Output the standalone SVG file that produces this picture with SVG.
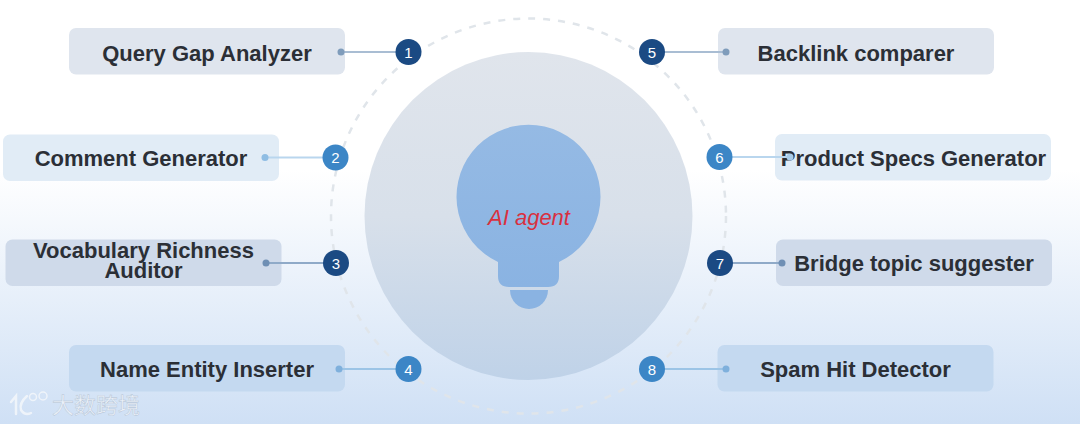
<svg xmlns="http://www.w3.org/2000/svg" width="1080" height="424" viewBox="0 0 1080 424">
<style>
.box{stroke:none}
.lbl{font-family:"Liberation Sans",Arial,sans-serif;font-weight:700;font-size:22px;fill:#2b2f36;text-anchor:middle}
.num{font-family:"Liberation Sans",Arial,sans-serif;font-size:15px;fill:#fff;text-anchor:middle}
.line{stroke-width:2;fill:none}
.dot{stroke:none}
.dark{fill:#1b4a83}.mid{fill:#3c86c6}
</style>
<defs>
<linearGradient id="bg" x1="0" y1="0" x2="0" y2="1"><stop offset="0.4" stop-color="#fff"/><stop offset="1" stop-color="#cfe0f5"/></linearGradient>
<linearGradient id="big" x1="0" y1="0" x2="0" y2="1"><stop offset="0" stop-color="#e0e5ec"/><stop offset="0.5" stop-color="#d8e0ea"/><stop offset="1" stop-color="#bfd2e8"/></linearGradient>
<linearGradient id="bulb" x1="0" y1="0" x2="0" y2="1"><stop offset="0" stop-color="#95bae4"/><stop offset="1" stop-color="#8ab3e2"/></linearGradient>
</defs>
<rect width="1080" height="424" fill="url(#bg)"/>
<circle cx="528.500" cy="216" r="197.500" fill="none" stroke="#e0e5ea" stroke-width="2.500" stroke-dasharray="7 8"/>
<circle cx="528.500" cy="216" r="164" fill="url(#big)"/>
<g id="agent">
<path fill="url(#bulb)" d="M498 262A72 72 0 1 1 559 262V276Q559 287 548 287H509Q498 287 498 276Z"/>
<path fill="#8ab3e2" d="M510 290H548A19 19 0 0 1 510 290Z"/>
<text x="529" y="225" font-family="'Liberation Sans',Arial,sans-serif" font-style="italic" font-size="22" fill="#d9303f" text-anchor="middle">AI agent</text>
</g>
<g id="n1"><rect class="box" x="69" y="28" width="276" height="46.500" rx="7" fill="#dfe5ee"/><text class="lbl" x="207" y="61">Query Gap Analyzer</text></g>
<g id="n2"><rect class="box" x="3" y="134.500" width="276" height="46.500" rx="7" fill="#e1ecf6"/><text class="lbl" x="141" y="166">Comment Generator</text></g>
<g id="n3"><rect class="box" x="5.500" y="239.500" width="276" height="46.500" rx="7" fill="#cfdaea"/><text class="lbl" x="143.500" y="258">Vocabulary Richness</text><text class="lbl" x="143.500" y="278">Auditor</text></g>
<g id="n4"><rect class="box" x="69" y="345" width="276" height="46.500" rx="7" fill="#c4d9f0"/><text class="lbl" x="207" y="377">Name Entity Inserter</text></g>
<g id="n5"><rect class="box" x="718" y="28" width="276" height="46.500" rx="7" fill="#dfe5ee"/><text class="lbl" x="856" y="61">Backlink comparer</text></g>
<g id="n6"><rect class="box" x="775" y="134" width="276" height="46.500" rx="7" fill="#e1ecf6"/><text class="lbl" x="913.500" y="166">Product Specs Generator</text></g>
<g id="n7"><rect class="box" x="776" y="239.500" width="276" height="46.500" rx="7" fill="#cfdaea"/><text class="lbl" x="914" y="271">Bridge topic suggester</text></g>
<g id="n8"><rect class="box" x="717.500" y="345" width="276" height="46.500" rx="7" fill="#c4d9f0"/><text class="lbl" x="855.500" y="377">Spam Hit Detector</text></g>
<g id="connectors">
<path class="line" stroke="#a9bdd3" d="M341 52H408"/><circle class="dot" cx="341" cy="52" r="3.500" fill="#7f9cbb"/>
<path class="line" stroke="#b9d6ee" d="M265 157.500H335"/><circle class="dot" cx="265" cy="157.500" r="3.500" fill="#8fbde3"/>
<path class="line" stroke="#8faac8" d="M266 263H336"/><circle class="dot" cx="266" cy="263" r="3.500" fill="#6f8fb4"/>
<path class="line" stroke="#9cc4e6" d="M339 369H408"/><circle class="dot" cx="339" cy="369" r="3.500" fill="#7fb0dc"/>
<path class="line" stroke="#a9bdd3" d="M652 52H726"/><circle class="dot" cx="726" cy="52" r="3.500" fill="#7f9cbb"/>
<path class="line" stroke="#b9d6ee" d="M719 157H790"/><circle class="dot" cx="790" cy="157" r="3.500" fill="#a9cce9"/>
<path class="line" stroke="#8faac8" d="M720 263H782"/><circle class="dot" cx="782" cy="263" r="3.500" fill="#6f8fb4"/>
<path class="line" stroke="#9cc4e6" d="M652 369H726"/><circle class="dot" cx="726" cy="369" r="3.500" fill="#7fb0dc"/>
</g>
<g id="b1"><circle class="dark" cx="408.500" cy="52" r="13"/><text class="num" x="408.500" y="57.500">1</text></g>
<g id="b2"><circle class="mid" cx="335.500" cy="157.500" r="13"/><text class="num" x="335.500" y="163">2</text></g>
<g id="b3"><circle class="dark" cx="336" cy="263" r="13"/><text class="num" x="336" y="268.500">3</text></g>
<g id="b4"><circle class="mid" cx="408.500" cy="369" r="13"/><text class="num" x="408.500" y="374.500">4</text></g>
<g id="b5"><circle class="dark" cx="652" cy="52" r="13"/><text class="num" x="652" y="57.500">5</text></g>
<g id="b6"><circle class="mid" cx="719.500" cy="157" r="13"/><text class="num" x="719.500" y="162.500">6</text></g>
<g id="b7"><circle class="dark" cx="720" cy="263" r="13"/><text class="num" x="720" y="268.500">7</text></g>
<g id="b8"><circle class="mid" cx="652" cy="369" r="13"/><text class="num" x="652" y="374.500">8</text></g>
<g id="watermark" fill="none" stroke="#f2f6fb" stroke-width="2.500" stroke-linecap="round" opacity="0.9">
<path d="M11 402L16 396V414"/><path d="M27 396Q19 403 21 410Q25 416 31 413"/>
<circle cx="33" cy="397" r="3.500" stroke-width="1.500"/><circle cx="43" cy="396" r="4" stroke-width="1.500"/>
<text x="52" y="413" font-family="'Noto Sans CJK SC',sans-serif" font-size="22" fill="#eef3fa" stroke="#aebccd" stroke-width="0.400" letter-spacing="0">大数跨境</text>
</g>
</svg>
